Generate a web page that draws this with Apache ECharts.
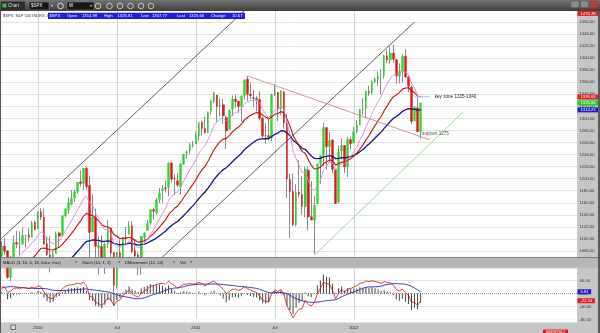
<!DOCTYPE html>
<html><head><meta charset="utf-8">
<script src="https://cdn.jsdelivr.net/npm/echarts@6/dist/echarts.min.js"></script>
<style>html,body{margin:0;padding:0;background:#fff}#c{width:600px;height:333px}</style>
</head><body><div id="c"></div>
<script>
// Weekly S&P 500 ($SPX) candles, week ending 2009-10-16 ... 2012-06-08
const opens=[1071.6,1088.2,1080.4,1036.2,1069.8,1094.1,1091.1,1091.1,1105.5,1107.0,1103.0,1127.3,
1116.6,1145.0,1136.0,1092.4,1073.9,1065.5,1075.5,1110.0,1105.4,1138.0,1148.5,1157.2,1167.7,1178.3,1194.9,1192.1,1217.1,1188.6,1111.5,1136.5,1084.8,1087.3,1065.8,1091.2,1117.7,1077.5,1022.1,1077.2,1066.0,1102.9,1107.5,1122.0,1081.0,1073.4,1062.9,1102.6,1113.9,1126.4,1148.6,1143.5,1165.3,1180.5,1184.7,1185.7,1226.0,1200.1,1196.6,1186.6,1223.9,1242.5,1245.8,1254.7,
1257.6,1270.8,1293.2,1283.3,1276.5,1311.9,1328.7,1338.9,1321.6,1322.7,1301.2,1281.7,1315.5,1332.0,1328.6,1320.0,1337.9,1365.2,1340.2,1334.8,1333.1,1331.1,1300.3,1271.0,1271.5,1268.4,1339.6,1343.3,1315.9,1344.3,1292.6,1198.5,1178.9,1123.1,1177.9,1173.6,1153.5,1214.0,1136.9,1131.2,1158.2,1224.5,1238.7,1284.9,1253.2,1263.9,1215.2,1161.4,1246.0,1255.1,1219.7,1265.0,
1258.9,1277.8,1289.1,1315.3,1316.2,1344.3,1343.1,1361.2,1365.2,1370.8,1370.8,1404.2,1397.1,1408.5,1397.5,1370.3,1378.9,1403.3,1369.2,1351.9,1295.7,1317.8,1278.3];
const highs=[1096.6,1101.4,1081.0,1071.5,1105.4,1113.7,1112.4,1119.1,1107.1,1117.7,1129.5,1130.4,
1145.4,1150.4,1150.5,1103.7,1104.7,1080.0,1112.4,1112.3,1139.4,1151.0,1169.2,1181.0,1181.4,1194.7,1213.9,1217.7,1219.8,1205.1,1173.6,1150.1,1104.0,1105.7,1093.0,1131.2,1119.0,1078.0,1078.2,1099.1,1103.0,1120.0,1129.2,1130.0,1100.1,1077.8,1105.1,1110.9,1131.5,1148.9,1151.4,1167.7,1184.4,1189.4,1196.1,1227.1,1227.4,1207.4,1208.9,1225.6,1241.3,1246.7,1259.4,1262.6,
1278.2,1293.2,1296.1,1302.7,1311.0,1330.8,1344.1,1339.0,1333.0,1332.3,1304.2,1314.8,1337.9,1339.5,1329.1,1337.5,1364.6,1370.6,1359.4,1346.8,1337.4,1345.2,1302.3,1292.5,1298.6,1341.0,1356.5,1343.3,1347.0,1345.0,1307.4,1208.5,1208.5,1190.7,1230.7,1204.4,1220.4,1220.4,1195.9,1171.4,1224.6,1239.0,1292.7,1284.9,1277.6,1266.0,1215.2,1255.0,1267.1,1255.1,1269.4,1269.5,
1285.4,1296.8,1315.5,1333.5,1345.3,1354.3,1363.4,1368.0,1378.0,1381.5,1406.0,1414.0,1419.2,1422.4,1397.5,1391.0,1406.6,1415.3,1369.2,1354.6,1320.7,1334.9,1325.8];
const lows=[1066.6,1074.3,1033.4,1029.4,1069.3,1085.0,1073.6,1091.1,1085.9,1095.6,1102.5,1114.8,
1116.6,1131.4,1090.2,1071.6,1044.5,1056.5,1075.5,1086.0,1105.4,1137.0,1141.4,1156.2,1161.0,1175.0,1187.0,1181.0,1181.6,1065.8,1111.5,1055.9,1040.8,1060.8,1042.2,1085.7,1069.0,1011.0,1018.0,1059.5,1056.9,1089.0,1107.5,1076.2,1069.2,1039.7,1040.9,1094.2,1113.9,1122.8,1131.9,1140.0,1159.7,1159.7,1177.0,1171.3,1194.0,1173.0,1185.5,1173.6,1223.6,1232.9,1240.1,1251.5,
1257.6,1262.7,1271.3,1275.1,1276.5,1306.3,1325.4,1294.3,1303.0,1291.0,1249.1,1281.7,1303.7,1318.0,1309.1,1294.7,1331.1,1329.2,1332.0,1318.5,1311.8,1296.5,1268.2,1258.1,1262.9,1262.7,1337.0,1295.3,1306.1,1282.9,1168.1,1101.5,1121.1,1121.1,1169.2,1140.1,1136.1,1114.2,1131.1,1074.8,1158.2,1191.5,1220.6,1215.4,1226.6,1209.4,1158.7,1158.7,1231.5,1209.5,1202.4,1248.6,
1258.9,1275.6,1289.0,1306.1,1300.5,1337.5,1340.0,1357.9,1354.2,1340.0,1365.9,1391.6,1391.0,1392.5,1357.4,1358.2,1358.8,1367.0,1343.4,1291.0,1295.7,1277.8,1266.7];
const closes=[1087.7,1079.6,1036.2,1069.3,1093.5,1091.4,1091.5,1106.0,1106.4,1102.5,1126.5,1115.1,
1145.0,1136.0,1091.8,1073.9,1066.2,1075.5,1109.2,1104.5,1138.7,1150.0,1159.9,1166.6,1178.1,1194.4,1192.1,1217.3,1186.7,1110.9,1135.7,1087.7,1089.4,1064.9,1091.6,1117.5,1076.8,1022.6,1078.0,1064.9,1102.7,1101.6,1121.6,1079.3,1071.7,1064.6,1104.5,1109.6,1125.6,1148.7,1146.2,1165.2,1176.2,1183.1,1183.3,1225.9,1199.2,1199.7,1189.4,1224.7,1240.4,1243.9,1256.8,1257.6,
1271.5,1293.2,1283.4,1276.3,1310.9,1329.2,1343.0,1319.9,1321.2,1304.3,1279.2,1313.8,1332.4,1328.2,1319.7,1337.4,1363.6,1340.2,1337.8,1333.3,1331.1,1300.2,1271.0,1271.5,1268.5,1339.7,1343.8,1316.1,1345.0,1292.3,1199.4,1178.8,1123.5,1176.8,1174.0,1154.2,1216.0,1136.4,1131.4,1155.5,1224.6,1238.3,1285.1,1253.2,1263.9,1215.7,1158.7,1244.3,1255.2,1219.7,1265.3,1257.6,
1277.8,1289.1,1315.4,1316.3,1344.9,1342.6,1361.2,1365.7,1370.0,1370.9,1404.2,1397.1,1408.5,1398.1,1370.3,1378.5,1403.4,1369.1,1353.4,1295.2,1317.8,1278.0,1325.66];
// moving-average lines (read values)
const ma10=[1050.3,1055.6,1052.1,1055.2,1062.2,1067.5,1071.9,1078.1,1083.2,1086.7,1093.9,1097.8,
1106.4,1111.8,1108.2,1102.0,1095.5,1091.9,1095.0,1096.7,1104.3,1112.6,1121.2,1129.5,1138.3,1148.5,1156.4,1167.5,1171.0,1160.1,1155.7,1143.3,1133.5,1121.0,1115.7,1116.0,1108.9,1093.2,1090.4,1085.8,1088.9,1091.2,1096.7,1093.5,1089.5,1085.0,1088.5,1092.3,1098.4,1107.5,1114.5,1123.7,1133.2,1142.3,1149.8,1163.6,1170.1,1175.5,1178.0,1186.5,1196.3,1205.0,1214.4,1222.3,
1231.2,1242.5,1249.9,1254.7,1264.9,1276.6,1288.7,1294.4,1299.3,1300.2,1296.4,1299.6,1305.6,1309.7,1311.5,1316.2,1324.8,1327.6,1329.5,1330.2,1330.4,1324.9,1315.1,1307.2,1300.2,1307.4,1314.0,1314.4,1320.0,1315.0,1294.0,1273.1,1245.9,1233.3,1222.5,1210.1,1211.2,1197.6,1185.6,1180.1,1188.2,1197.3,1213.3,1220.6,1228.5,1226.2,1213.9,1219.4,1225.9,1224.8,1232.2,1236.8,
1244.3,1252.4,1263.9,1273.4,1286.4,1296.6,1308.3,1318.7,1328.0,1335.8,1348.2,1357.1,1366.4,1372.2,1371.9,1373.1,1378.6,1376.9,1372.6,1358.5,1351.1,1337.8,1335.66];
const ma20=[1017.4,1023.3,1024.5,1028.8,1035.0,1040.4,1045.3,1051.1,1056.4,1060.8,1067.1,1071.7,
1078.7,1084.2,1084.9,1083.9,1082.2,1081.6,1084.2,1086.1,1091.1,1096.7,1102.7,1108.8,1115.4,1122.9,1129.5,1137.9,1142.5,1139.5,1139.1,1134.2,1129.9,1123.7,1120.6,1120.3,1116.2,1107.3,1104.5,1100.7,1100.9,1101.0,1103.0,1100.7,1097.9,1094.7,1095.6,1096.9,1099.6,1104.3,1108.3,1113.7,1119.7,1125.7,1131.2,1140.2,1145.8,1150.9,1154.6,1161.3,1168.8,1175.9,1183.6,1190.6,
1198.3,1207.3,1214.5,1220.4,1229.0,1238.5,1248.4,1255.2,1261.5,1265.6,1266.9,1271.4,1277.2,1282.1,1285.7,1290.6,1297.5,1301.6,1305.0,1307.7,1309.9,1309.0,1305.4,1302.2,1299.0,1302.9,1306.8,1307.7,1311.3,1309.5,1299.0,1287.6,1272.0,1262.9,1254.4,1244.9,1242.1,1232.0,1222.4,1216.0,1216.8,1218.8,1225.1,1227.8,1231.2,1229.7,1222.9,1224.9,1227.8,1227.0,1230.6,1233.2,
1237.4,1242.3,1249.3,1255.7,1264.2,1271.7,1280.2,1288.3,1296.1,1303.2,1312.8,1320.8,1329.1,1335.7,1339.0,1342.8,1348.6,1350.6,1350.9,1345.6,1343.0,1336.8,1335.7];
const ma40=[971.0,976.3,979.2,983.6,989.0,994.0,998.8,1004.0,1009.0,1013.6,1019.1,1023.8,
1029.7,1034.9,1037.7,1039.5,1040.8,1042.5,1045.8,1048.7,1053.1,1057.8,1062.8,1067.9,1073.3,1079.2,1084.7,1091.2,1095.9,1096.6,1098.5,1098.0,1097.6,1096.0,1095.8,1096.9,1095.9,1092.3,1091.6,1090.3,1090.9,1091.4,1092.9,1092.2,1091.2,1089.9,1090.6,1091.5,1093.2,1095.9,1098.4,1101.7,1105.3,1109.1,1112.7,1118.2,1122.2,1126.0,1129.1,1133.8,1139.0,1144.1,1149.6,1154.9,
1160.6,1167.1,1172.8,1177.9,1184.4,1191.5,1198.9,1204.8,1210.5,1215.1,1218.2,1222.9,1228.2,1233.1,1237.3,1242.2,1248.1,1252.6,1256.8,1260.5,1263.9,1265.7,1266.0,1266.3,1266.4,1270.0,1273.6,1275.7,1279.1,1279.7,1275.8,1271.1,1263.9,1259.6,1255.4,1250.5,1248.8,1243.3,1237.8,1233.8,1233.4,1233.6,1236.1,1236.9,1238.2,1237.1,1233.3,1233.8,1234.8,1234.1,1235.6,1236.7,
1238.7,1241.2,1244.8,1248.3,1253.0,1257.4,1262.5,1267.5,1272.5,1277.3,1283.5,1289.0,1294.8,1299.8,1303.2,1306.9,1311.6,1314.4,1316.3,1315.3,1315.4,1313.6,1314.23];
// MACD (3, 10, 0, 16) panel
const macdLine=[21.1,19.9,3.8,7.4,15.9,17.3,16.3,19.0,18.6,15.5,20.5,17.0,
23.5,21.2,4.2,-8.8,-15.8,-14.3,-1.6,2.3,14.6,21.9,26.0,27.4,29.2,32.5,30.2,34.5,23.4,-7.4,-11.5,-27.3,-30.8,-37.2,-28.0,-13.4,-19.2,-37.0,-23.3,-19.8,-4.5,1.8,10.6,-0.2,-7.0,-11.4,0.6,7.1,14.1,23.1,23.9,28.1,30.8,31.3,28.7,38.6,30.6,24.7,16.8,23.3,28.8,29.5,31.3,29.4,
30.4,34.9,30.5,23.7,29.8,35.4,38.8,29.3,23.2,13.2,-0.1,5.5,13.2,13.8,10.1,13.3,21.8,15.8,11.1,6.8,3.7,-7.7,-21.0,-24.4,-24.5,0.3,11.8,6.6,13.0,-2.3,-37.9,-55.6,-75.4,-59.6,-48.6,-46.0,-21.1,-34.3,-38.2,-28.6,-0.1,15.9,35.9,30.6,29.1,10.5,-16.2,1.6,12.2,4.1,14.9,15.6,
20.8,24.7,32.4,32.9,39.2,37.5,39.4,38.0,35.4,31.4,37.5,34.3,33.6,26.9,12.8,8.5,13.9,3.9,-5.5,-27.3,-26.6,-36.5,-22.16];
const macdSignal=[16.7,19.2,21.0,21.6,21.2,20.3,18.9,18.1,17.2,16.3,16.5,16.2,
15.7,15.9,16.0,14.6,12.3,10.2,9.9,9.6,9.5,9.8,10.4,10.9,11.6,12.7,13.3,14.4,14.4,12.6,11.6,10.4,9.5,8.1,6.4,5.4,3.3,-0.4,-3.5,-6.5,-8.6,-10.5,-11.7,-13.9,-15.8,-16.0,-15.2,-13.0,-10.2,-6.4,-3.2,-0.6,2.5,6.8,10.1,13.8,16.0,17.4,17.8,19.3,21.5,24.1,26.0,27.4,
28.4,29.1,29.5,29.2,29.1,29.4,30.0,29.4,28.9,28.2,27.1,26.0,25.0,24.0,22.7,21.7,21.2,20.0,18.8,17.7,16.1,13.4,9.7,6.3,3.3,2.5,3.2,3.3,3.3,2.3,-0.7,-5.0,-11.1,-15.8,-19.5,-22.8,-24.4,-26.1,-27.2,-27.5,-26.0,-25.0,-23.5,-22.0,-21.0,-20.2,-18.8,-15.2,-9.7,-5.7,-1.7,2.2,
4.8,8.5,12.9,16.7,19.2,20.5,20.7,21.2,21.6,22.9,26.3,28.3,29.6,31.0,30.9,30.5,30.1,28.8,26.4,22.6,17.0,11.5,5.81];
const macdHist=[4.4,0.7,-17.2,-14.2,-5.3,-3.0,-2.6,0.9,1.4,-0.8,4.0,0.8,
7.8,5.3,-11.8,-23.4,-28.1,-24.5,-11.5,-7.3,5.1,12.1,15.6,16.5,17.6,19.8,16.9,20.1,9.0,-20.0,-23.1,-37.7,-40.3,-45.3,-34.4,-18.8,-22.5,-36.6,-19.8,-13.3,4.1,12.3,22.3,13.7,8.8,4.6,15.8,20.1,24.3,29.5,27.1,28.7,28.3,24.5,18.6,24.8,14.6,7.3,-1.0,4.0,7.3,5.4,5.3,2.0,
2.0,5.8,1.0,-5.5,0.7,6.0,8.8,-0.1,-5.7,-15.0,-27.2,-20.5,-11.8,-10.2,-12.6,-8.4,0.6,-4.2,-7.7,-10.9,-12.4,-21.1,-30.7,-30.7,-27.8,-2.2,8.6,3.3,9.7,-4.6,-37.2,-50.6,-64.3,-43.8,-29.1,-23.2,3.3,-8.2,-11.0,-1.1,25.9,40.9,59.4,52.6,50.1,30.7,2.6,16.8,21.9,9.8,16.6,13.4,
16.0,16.2,19.5,16.2,20.0,17.0,18.7,16.8,13.8,8.5,11.2,6.0,4.0,-4.1,-18.1,-22.0,-16.2,-24.9,-31.9,-49.9,-43.6,-48.0,-28.0];
// x axis: weekly slots (incl. empty space to the right)
const weekCount=190;
const weeks=[];
for(let i=0;i<weekCount;i++){weeks.push(new Date(Date.UTC(2009,9,16)+i*7*86400000).toISOString().slice(0,10));}
const tickIdx=[12,38,64,90,116];
const tickText=['2010','Jul','2011','Jul','2012'];
// drawn trend lines: [week index, price]
const channelA=[[0,1100.7],[80,1479]];
const channelB=[[52,1065.3],[136,1460.1]];
const downTrend=[[81,1370.6],[141,1264.3]];
const upTrend=[[103,1073],[152,1310.7]];
const keyZone=[[136,1336],[141,1336]];
const supportNote=[[138,1275]];
// header / axis readouts
const header=['$SPX','Open','1314.99','High','1325.81','Low','1307.77','Last','1325.66','Change','10.67'];
const priceTags=[[1476.78,'#e81c1c'],[1335.66,'#e81c1c'],[1325.66,'#18d818'],[1314.23,'#1c1cc8']];
const macdTags=[[5.81,'#1c1cc8'],[-22.16,'#e81c1c']];

const FONT='Liberation Sans, Arial, sans-serif';
const candles=closes.map((c,i)=>[opens[i],c,lows[i],highs[i]]);
const bodies=closes.map((c,i)=>[opens[i],c,Math.min(opens[i],c),Math.max(opens[i],c)]);
function tag(v,col,dy){return {yAxis:v,lineStyle:{color:'rgba(0,0,0,0)',width:0.01},label:{show:true,position:'end',distance:0.5,offset:[0,dy||0],formatter:v.toFixed(2),color:'#fff',backgroundColor:col,fontSize:4.2,fontFamily:FONT,padding:[0.6,2.5,0.4,3]}};}
const vlines=tickIdx.map(i=>({xAxis:weeks[i]}));
function tl(data,color,w){return {type:'line',xAxisIndex:0,yAxisIndex:0,data:data,symbol:'none',silent:true,z:4,lineStyle:{color:color,width:w}};}

const chart=echarts.init(document.getElementById('c'),null,{renderer:'canvas'});
const hdrX=[49.5,67,82,104,117.5,141,152,177,189,211,232];
const graphics=[
 {type:'rect',z:100,shape:{x:0,y:0,width:600,height:11},style:{fill:new echarts.graphic.LinearGradient(0,0,0,1,[{offset:0,color:'#737373'},{offset:1,color:'#3e3e3e'}])}},
 {type:'rect',z:101,shape:{x:1,y:1.5,width:24,height:8.5},style:{fill:'#2e2e2e'}},
 {type:'rect',z:102,shape:{x:2.5,y:3.5,width:4,height:4},style:{fill:'#3cb83c'}},
 {type:'text',z:102,style:{x:8,y:6,text:'Chart',fill:'#ddd',fontSize:4.5,fontFamily:FONT,verticalAlign:'middle'}},
 {type:'rect',z:101,shape:{x:29,y:2,width:20,height:8},style:{fill:'#161616',stroke:'#888',lineWidth:0.5}},
 {type:'text',z:102,style:{x:31,y:6,text:'$SPX',fill:'#fff',fontSize:4.5,fontFamily:FONT,verticalAlign:'middle'}},
 {type:'text',z:102,style:{x:51,y:6,text:'▾',fill:'#ddd',fontSize:4,fontFamily:FONT,verticalAlign:'middle'}},
 {type:'circle',z:102,shape:{cx:60.5,cy:6,r:2.8},style:{fill:'none',stroke:'#eee',lineWidth:0.8}},
 {type:'rect',z:101,shape:{x:67,y:2,width:27,height:8},style:{fill:'#161616',stroke:'#888',lineWidth:0.5}},
 {type:'text',z:102,style:{x:69,y:6,text:'W',fill:'#fff',fontSize:4.5,fontFamily:FONT,verticalAlign:'middle'}},
 {type:'text',z:102,style:{x:90,y:6,text:'▾',fill:'#ddd',fontSize:4,fontFamily:FONT,verticalAlign:'middle'}},
 ...[98,109.5,120,130.5,141,151].map(cx=>({type:'circle',z:102,shape:{cx:cx,cy:6,r:2.8},style:{fill:'none',stroke:'#ddd',lineWidth:0.8}})),
 ...[571,580.5,590].map((x,k)=>({type:'rect',z:102,shape:{x:x,y:1,width:8,height:6.5},style:{fill:k===2?'#c23a3a':'#8a8a8a',stroke:'#555',lineWidth:0.5}})),
 {type:'text',z:102,style:{x:3,y:16,text:'$SPX, S&P 500 INDEX, W',fill:'#333',fontSize:4,fontFamily:FONT,verticalAlign:'middle'}},
 {type:'rect',z:101,shape:{x:48,y:12.7,width:197,height:6.4},style:{fill:'#1e1edc'}},
 ...header.map((t,k)=>({type:'text',z:102,style:{x:hdrX[k],y:16,text:t,fill:'#fff',fontSize:4.2,fontFamily:FONT,verticalAlign:'middle'}})),
 {type:'rect',z:100,shape:{x:0,y:257.5,width:600,height:10.3},style:{fill:'#b6b6b6'}},
 {type:'rect',z:100,shape:{x:0,y:257.2,width:600,height:0.8},style:{fill:'#666'}},
 {type:'text',z:101,style:{x:3,y:263,text:'MACD (3, 10, 0, 16, false, true)',fill:'#111',fontSize:4.2,fontFamily:FONT,verticalAlign:'middle'}},
 {type:'text',z:101,style:{x:82,y:263,text:'Stoch (14, 1, 3)',fill:'#111',fontSize:4.2,fontFamily:FONT,verticalAlign:'middle'}},
 {type:'text',z:101,style:{x:125,y:263,text:'DMovement (14, 14)',fill:'#111',fontSize:4.2,fontFamily:FONT,verticalAlign:'middle'}},
 {type:'text',z:101,style:{x:180,y:263,text:'Vol',fill:'#111',fontSize:4.2,fontFamily:FONT,verticalAlign:'middle'}},
 ...[75,118,173,190].map(x=>({type:'text',z:101,style:{x:x,y:262,text:'˅',fill:'#222',fontSize:4,fontFamily:FONT,verticalAlign:'middle'}})),
 {type:'rect',z:100,shape:{x:0,y:319.3,width:577,height:3.2},style:{fill:'#fff'}},
 {type:'rect',z:100,shape:{x:11,y:325,width:4.5,height:4.5},style:{fill:'#ddd',stroke:'#333',lineWidth:0.6}},
 {type:'rect',z:100,shape:{x:543,y:329.5,width:25,height:4},style:{fill:'#e02020'}},
 {type:'text',z:101,style:{x:555.5,y:331.6,text:'06/08/2012',fill:'#fff',fontSize:3.8,fontFamily:FONT,align:'center',verticalAlign:'middle'}},
 {type:'rect',z:100,shape:{x:0,y:11,width:1,height:322},style:{fill:'#555'}},
 {type:'rect',z:100,shape:{x:598,y:11,width:2,height:322},style:{fill:'#5a5a5a'}}
];

chart.setOption({
 animation:false,
 backgroundColor:'#c6c6c6',
 textStyle:{fontFamily:FONT},
 grid:[
  {left:0,width:577,top:9.95,height:253.1,show:true,backgroundColor:'#fff',borderWidth:0,outerBoundsMode:'none'},
  {left:0,width:577,top:267.8,height:51.6,show:true,backgroundColor:'#fff',borderWidth:0,outerBoundsMode:'none'}
 ],
 xAxis:[
  {type:'category',gridIndex:0,data:weeks,boundaryGap:true,axisLine:{show:false},axisTick:{show:false},axisLabel:{show:false},splitLine:{show:false}},
  {type:'category',gridIndex:1,data:weeks,boundaryGap:true,axisLine:{show:false},axisTick:{show:false},splitLine:{show:false},
   axisLabel:{show:true,interval:(i)=>tickIdx.indexOf(i)>=0,formatter:(v,i)=>tickText[tickIdx.indexOf(i)]||'',fontSize:4.2,color:'#222',margin:6,fontFamily:FONT}}
 ],
 yAxis:[
  {type:'value',gridIndex:0,position:'right',min:1060,max:1480,interval:20,axisLine:{show:false},axisTick:{show:false},
   axisLabel:{formatter:(v)=>(v<1080||v>1460)?'':v.toFixed(2),fontSize:4.2,color:'#333',margin:2.5,fontFamily:FONT},
   splitLine:{show:true,lineStyle:{color:'#e3e3e3',width:1}}},
  {type:'value',gridIndex:1,position:'right',min:-80,max:80,interval:40,axisLine:{show:false},axisTick:{show:false},
   axisLabel:{formatter:(v)=>v===80?'':v.toFixed(2),fontSize:4.2,color:'#333',margin:2.5,fontFamily:FONT},
   splitLine:{show:true,lineStyle:{color:['#e3e3e3','#e3e3e3','rgba(0,0,0,0)','#e3e3e3','#e3e3e3'],width:1}}}
 ],
 series:[
  {type:'candlestick',xAxisIndex:0,yAxisIndex:0,data:candles,barWidth:0.6,silent:true,z:2,
   itemStyle:{color:'#8a8a8a',color0:'#8a8a8a',borderColor:'#8a8a8a',borderColor0:'#8a8a8a',borderWidth:1},
   markLine:{silent:true,symbol:'none',z:1,label:{show:false},lineStyle:{color:'#d4d4d4',width:1,type:'solid'},data:vlines}},
  {type:'candlestick',xAxisIndex:0,yAxisIndex:0,data:bodies,barWidth:2.1,silent:true,z:3,
   itemStyle:{color:'#2fd62f',color0:'#e01414',borderColor:'#2fd62f',borderColor0:'#e01414',borderWidth:0.4}},
  {type:'line',xAxisIndex:0,yAxisIndex:0,data:ma40,symbol:'none',silent:true,z:4,lineStyle:{color:'#14147e',width:1.3}},
  {type:'line',xAxisIndex:0,yAxisIndex:0,data:ma20,symbol:'none',silent:true,z:4,lineStyle:{color:'#c80e0e',width:1.1}},
  {type:'line',xAxisIndex:0,yAxisIndex:0,data:ma10,symbol:'none',silent:true,z:4,lineStyle:{color:'#d68ad6',width:0.9}},
  tl(channelA,'#3a3a3a',0.8),
  tl(channelB,'#3a3a3a',0.8),
  tl(downTrend,'#cf7b70',0.8),
  tl(upTrend,'#8ad88a',0.9),
  Object.assign(tl(keyZone,'#9cc4e4',1),{endLabel:{show:true,formatter:'key zone 1335-1340',fontSize:4.6,color:'#222',distance:5,fontFamily:FONT}}),
  {type:'scatter',xAxisIndex:0,yAxisIndex:0,data:supportNote,symbolSize:0,silent:true,z:5,
   label:{show:true,position:'right',distance:1.5,formatter:'support 1275',fontSize:4.6,color:'#222',fontFamily:FONT}},
  {type:'line',xAxisIndex:0,yAxisIndex:0,data:[],symbol:'none',silent:true,z:8,
   markLine:{silent:true,symbol:'none',z:8,data:priceTags.map((p,k)=>tag(p[0],p[1],k===0?1.5:0))}},
  {type:'bar',xAxisIndex:1,yAxisIndex:1,data:macdHist,barWidth:1,silent:true,z:2,itemStyle:{color:'#444'},
   markLine:{silent:true,symbol:'none',label:{show:false},data:[{yAxis:0,lineStyle:{type:'dotted',color:'#999',width:1}},...vlines.map(v=>Object.assign({lineStyle:{color:'#d4d4d4',width:1,type:'solid'}},v))],z:1}},
  {type:'line',xAxisIndex:1,yAxisIndex:1,data:macdSignal,symbol:'none',silent:true,z:3,lineStyle:{color:'#2a2aa0',width:0.9}},
  {type:'line',xAxisIndex:1,yAxisIndex:1,data:macdLine,symbol:'none',silent:true,z:4,lineStyle:{color:'#c81818',width:0.8}},
  {type:'line',xAxisIndex:1,yAxisIndex:1,data:[],symbol:'none',silent:true,z:8,
   markLine:{silent:true,symbol:'none',z:8,data:macdTags.map(p=>tag(p[0],p[1],0))}}
 ],
 graphic:graphics
});
</script></body></html>
